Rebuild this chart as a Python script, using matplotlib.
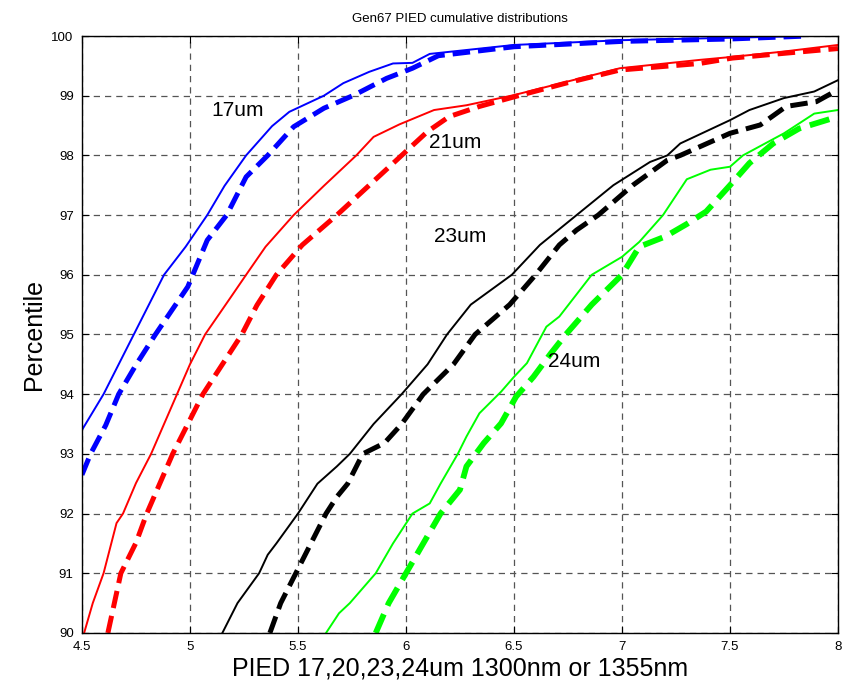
import numpy as np
import matplotlib
matplotlib.use("Agg")
import matplotlib.pyplot as plt

plt.rcParams['font.family'] = ['Liberation Sans', 'DejaVu Sans']

# Valores (PIED, percentil)
# 17um
x17_1300 = [4.50, 4.60, 4.74, 4.88, 4.98, 5.08, 5.16, 5.26, 5.38, 5.46, 5.62, 5.71, 5.83, 5.94, 6.03, 6.11, 6.50, 7.00, 7.50, 7.86]
y17_1300 = [93.40, 94.00, 95.00, 96.00, 96.47, 97.00, 97.49, 98.00, 98.49, 98.73, 99.00, 99.21, 99.40, 99.54, 99.55, 99.70, 99.85, 99.93, 99.97, 100.0]
x17_1355 = [4.50, 4.54, 4.61, 4.67, 4.75, 4.84, 4.99, 5.08, 5.17, 5.26, 5.36, 5.48, 5.62, 5.76, 5.91, 6.03, 6.15, 6.50, 7.00, 7.50, 7.86]
y17_1355 = [92.65, 93.00, 93.48, 94.00, 94.49, 95.00, 95.80, 96.58, 97.00, 97.64, 98.00, 98.48, 98.79, 99.01, 99.29, 99.46, 99.67, 99.82, 99.91, 99.95, 100.0]

# 21um
x21_1300 = [4.51, 4.55, 4.60, 4.66, 4.69, 4.75, 4.82, 4.88, 4.94, 5.00, 5.07, 5.19, 5.26, 5.35, 5.48, 5.62, 5.77, 5.85, 5.97, 6.13, 6.28, 6.50, 6.74, 6.99, 7.36, 7.51, 7.75, 8.00]
y21_1300 = [90.00, 90.50, 91.00, 91.84, 92.00, 92.51, 93.00, 93.50, 94.00, 94.50, 95.00, 95.63, 96.00, 96.47, 97.00, 97.49, 98.00, 98.31, 98.52, 98.76, 98.84, 99.01, 99.23, 99.46, 99.60, 99.65, 99.74, 99.85]
x21_1355 = [4.62, 4.65, 4.68, 4.75, 4.80, 4.86, 4.92, 4.99, 5.06, 5.15, 5.24, 5.31, 5.40, 5.52, 5.68, 5.83, 5.98, 6.10, 6.20, 6.34, 6.50, 6.74, 6.99, 7.36, 7.51, 7.75, 8.00]
y21_1355 = [90.00, 90.50, 91.00, 91.51, 92.00, 92.50, 93.00, 93.50, 94.00, 94.50, 95.00, 95.49, 96.00, 96.50, 97.00, 97.50, 98.00, 98.40, 98.65, 98.82, 98.98, 99.21, 99.43, 99.54, 99.63, 99.71, 99.79]

# 23um
x23_1300 = [5.15, 5.22, 5.32, 5.36, 5.40, 5.50, 5.59, 5.68, 5.74, 5.85, 5.98, 6.10, 6.19, 6.30, 6.49, 6.62, 6.79, 6.96, 7.13, 7.21, 7.27, 7.50, 7.59, 7.75, 7.89, 8.00]
y23_1300 = [90.00, 90.50, 91.00, 91.31, 91.50, 92.00, 92.50, 92.79, 93.00, 93.50, 94.00, 94.50, 95.00, 95.50, 96.00, 96.50, 97.00, 97.50, 97.89, 98.00, 98.20, 98.59, 98.76, 98.96, 99.07, 99.26]
x23_1355 = [5.37, 5.42, 5.49, 5.56, 5.63, 5.68, 5.73, 5.80, 5.90, 5.98, 6.08, 6.22, 6.32, 6.48, 6.60, 6.71, 6.79, 6.89, 7.05, 7.21, 7.27, 7.50, 7.64, 7.76, 7.90, 8.00]
y23_1355 = [90.00, 90.50, 91.00, 91.50, 92.00, 92.28, 92.50, 93.00, 93.18, 93.50, 94.00, 94.50, 95.00, 95.50, 96.00, 96.50, 96.75, 97.00, 97.50, 97.92, 98.00, 98.37, 98.51, 98.82, 98.90, 99.10]

# 24um
x24_1300 = [5.63, 5.69, 5.74, 5.86, 5.94, 6.03, 6.11, 6.16, 6.24, 6.28, 6.34, 6.44, 6.50, 6.56, 6.65, 6.71, 6.86, 7.00, 7.08, 7.19, 7.30, 7.41, 7.50, 7.56, 7.75, 7.89, 8.00]
y24_1300 = [90.00, 90.33, 90.50, 91.00, 91.50, 92.00, 92.17, 92.50, 93.00, 93.29, 93.68, 94.04, 94.29, 94.52, 95.13, 95.30, 96.00, 96.30, 96.55, 97.00, 97.60, 97.76, 97.81, 98.00, 98.37, 98.70, 98.76]
x24_1355 = [5.86, 5.92, 6.00, 6.08, 6.16, 6.25, 6.28, 6.36, 6.44, 6.51, 6.59, 6.67, 6.74, 6.86, 7.00, 7.08, 7.20, 7.30, 7.39, 7.45, 7.50, 7.59, 7.70, 7.82, 8.00]
y24_1355 = [90.00, 90.50, 91.00, 91.50, 92.00, 92.40, 92.79, 93.18, 93.51, 93.96, 94.29, 94.68, 95.00, 95.50, 96.00, 96.47, 96.64, 96.85, 97.06, 97.30, 97.50, 97.87, 98.20, 98.45, 98.65]

etiquetas = ["17um", "21um", "23um", "24um"]
pos_etiquetas = [(5.22, 98.75), (6.23, 98.22), (6.25, 96.64), (6.78, 94.55)]

fig = plt.figure(figsize=(8.45, 6.91), dpi=100)
ax = fig.add_axes([0.097, 0.084, 0.8947, 0.8639])

ax.plot(x17_1300, y17_1300, color=(0, 0, 1), lw=1.4)
ax.plot(x17_1355, y17_1355, color=(0, 0, 1), lw=3.6, ls=(0, (3.5, 1.6)))
ax.plot(x21_1300, y21_1300, color=(1, 0, 0), lw=1.4)
ax.plot(x21_1355, y21_1355, color=(1, 0, 0), lw=3.6, ls=(0, (3.5, 1.6)))
ax.plot(x23_1300, y23_1300, color='k', lw=1.4)
ax.plot(x23_1355, y23_1355, color='k', lw=3.6, ls=(0, (3.5, 1.6)))
ax.plot(x24_1300, y24_1300, color=(0, 1, 0), lw=1.4)
ax.plot(x24_1355, y24_1355, color=(0, 1, 0), lw=4.2, ls=(0, (3.5, 1.6)))

for txt, (px, py) in zip(etiquetas, pos_etiquetas):
    ax.text(px, py, txt, fontsize=15, ha='center', va='center')

ax.set_xlim(4.5, 8)
ax.set_ylim(90, 100)
ax.set_xticks(np.arange(4.5, 8.01, 0.5))
ax.set_xticklabels(["4.5", "5", "5.5", "6", "6.5", "7", "7.5", "8"])
ax.set_yticks(np.arange(90, 100.1, 1))
ax.grid(True, color='#555555', ls=(0, (5, 4)), lw=0.9)
ax.tick_params(direction='in', top=True, right=True, labelsize=9.5, length=5, pad=6)
for s in ax.spines.values():
    s.set_linewidth(1.0)

ax.set_title("Gen67 PIED cumulative distributions", fontsize=9.5, pad=10)
ax.set_xlabel("PIED 17,20,23,24um 1300nm or 1355nm", fontsize=18, labelpad=2)
ax.set_ylabel("Percentile", fontsize=18, labelpad=4)

fig.savefig("out.png", dpi=100)
